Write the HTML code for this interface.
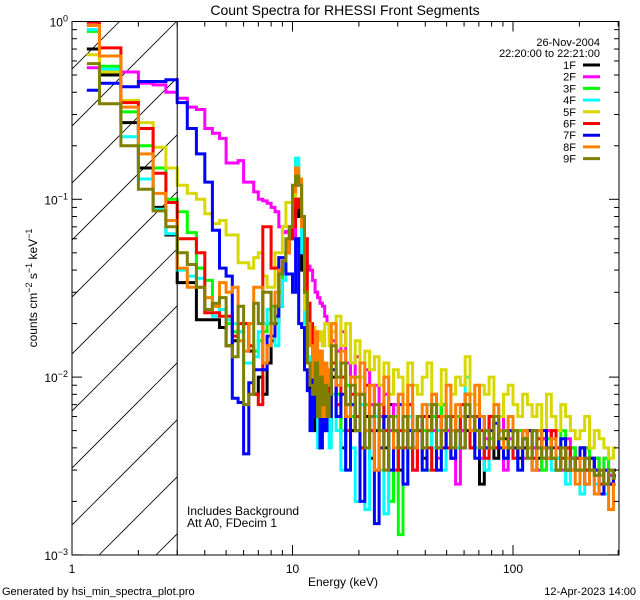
<!DOCTYPE html>
<html><head><meta charset="utf-8"><style>
html,body{margin:0;padding:0;background:#fff}
svg{display:block;font-family:"Liberation Sans",sans-serif}
</style></head><body>
<svg id="chart" width="640" height="600" viewBox="0 0 640 600" xmlns="http://www.w3.org/2000/svg">
<rect width="640" height="600" fill="#fff"/>
<defs><clipPath id="plotclip"><rect x="72" y="21" width="547" height="534"/></clipPath></defs>
<text x="345" y="15" font-size="14" text-anchor="middle">Count Spectra for RHESSI Front Segments</text>
<g id="hatch" clip-path="url(#plotclip)"></g>
<g id="series" clip-path="url(#plotclip)"></g>
<g id="axes"></g>
<text x="187" y="515" font-size="12">Includes Background</text>
<text x="187" y="527" font-size="12">Att A0, FDecim 1</text>
<text x="343" y="586" font-size="12" text-anchor="middle">Energy (keV)</text>
<text transform="translate(37,288) rotate(-90)" font-size="12" text-anchor="middle">counts cm<tspan dy="-5" font-size="9">−2</tspan><tspan dy="5"> s</tspan><tspan dy="-5" font-size="9">−1</tspan><tspan dy="5"> keV</tspan><tspan dy="-5" font-size="9">−1</tspan></text>
<text x="2" y="595" font-size="11">Generated by hsi_min_spectra_plot.pro</text>
<text x="636" y="595" font-size="11" text-anchor="end">12-Apr-2023 14:00</text>
<text x="600" y="46" font-size="11" text-anchor="end">26-Nov-2004</text>
<text x="600" y="57" font-size="11" text-anchor="end">22:20:00 to 22:21:00</text>
<g id="legend"></g>
</svg>
<script>
// ---- data ----
const seriesNames = ["1F","2F","3F","4F","5F","6F","7F","8F","9F"];
const seriesColors = ["#000000","#ff00ff","#00ff00","#00ffff","#d8d800","#ff0000","#0000ff","#ff8000","#808000"];
// low-energy bins: 1/3 keV from 1 to 15 keV ; values in units of 1e-3 counts/cm2/s/keV
const lowBlack  = [700,500,270,150,90,63,34,34,21,21,21,19,15,16,18,20,14,8,10,8,12,16,20,25,40,50,60,80,100,80,40,20,12,8,6,5,6,8,5,7,6,5];
const lowMagenta= [550,520,520,450,440,400,370,330,320,250,235,220,160,160,165,125,125,110,100,98,95,90,85,70,65,66,66,70,60,55,50,45,42,40,35,30,28,26,25,22,20,18];
const lowGreen  = [880,560,310,200,150,100,85,65,41,35,25,24,20,18,16,12,12,14,16,18,20,25,30,30,40,50,60,90,170,120,60,30,20,16,12,10,8,12,7,9,6,8];
const lowCyan   = [900,540,225,130,88,64,40,37,36,24,22,24,21,20,18,12,12,13,18,20,24,20,15,25,35,50,70,90,170,120,50,20,13,11,7,9,4,6,8,5,7,4];
const lowYellow = [650,520,360,270,196,150,120,108,100,83,73,76,63,63,44,44,41,47,50,37,32,32,50,50,70,96,96,96,137,123,70,24,24,19,19,18,16,18,15,20,20,15];
const lowRed    = [990,710,350,250,140,96,60,60,50,23,23,22,22,17,20,20,15,8,7,70,70,41,41,40,45,50,60,70,100,90,80,60,26,20,15,10,14,8,12,6,9,7];
const lowBlue   = [410,450,430,460,460,470,350,250,180,125,67,41,37,7.6,7.2,3.7,9.3,11,11,11,17,17,22,47,47,38,38,30,60,20,19,11,8.4,5,12,6,9,4,7,5,8,6];
const lowOrange = [950,640,330,180,108,76,41,32,32,28,25,34,30,32,16,14,20,32,32,12,15,20,30,40,45,50,70,110,150,130,70,30,20,15,10,18,8,14,6,12,9,11];
const lowOlive  = [580,345,200,114,86,70,50,43,32,24,26,28,15,13,25,7,8,26,20,30,30,20,25,38,45,60,70,120,135,120,80,30,12,9,8,12,6,10,7,9,6,8];
// high-energy bins: 60 log bins from 15 to ~300 keV ; units 1e-3
const tailBlack  = [10,6,4,7,5,8,4,6,3.5,5,6,4,7,5,3,5,6,4,5,3.5,6,5,4,7,5,3.5,6,5,5,4,6,2.5,4,6,3.5,5,4.5,4,5,3.5,4,5,4,3.5,4.5,4,5,3.5,4,3,4,3.5,3,4,3,3.5,3,2.5,3,2.8];
const tailMagenta= [16,14,18,12,10,13,8,11,7,9,6,8,5,7,4,6,5,3,6,4,7,5,3.5,6,5,4,2.5,5,6,4,5,3.5,4.5,5,4,6,3,4.5,5,4,3.5,5,4,3,4.5,5,3.5,4,3,4.5,3.5,3,4,3,3.5,2.5,3,3.5,2.8,3];
const tailGreen  = [12,8,5,9,6,10,4,7,5,3,7,5,2,6,1.3,5,7,4,6,5,3,6,5,7,4,5,6,4,8,5,6,4,5,4.5,6,4,3.5,5,4,5,4.5,3.5,5,4,3,4.5,4,3.5,5,3,4,3.5,3,4,3,3.5,2.8,3.5,3,2.5];
const tailCyan   = [8,5,3,6,4,2,7,1.8,5,6,3,1.7,6,4,5,2.5,6,4,5,3,7,4,5,3,6,5,4,6,10,5,4,6,3,5,4,5,3.5,4,5,3,4.5,4,3.5,5,3.5,4,3,3.5,4,2.5,3.5,3,2.2,3.5,3,2.5,3,2.2,3,2.5];
const tailYellow = [18,22,15,20,12,16,10,14,11,13,9,12,8,11,10,7,12,9,8,10,12,8,7,11,9,8,10,9,13,8,7,9,8,10,7,6,8,9,7,6,8,7,6,7,5,8,6,5,7,6,5,4.5,5,6,4,5,4.5,4,3.5,4];
const tailRed    = [12,7,10,5,8,6,4,9,5,3,7,5,6,3,5,4,7,3,5,6,4,3,6,5,4,6,5,7,8,4,6,5,3.5,6,4,5,4,5,3.5,4,5,4,3.5,4.5,4,3.5,5,4,3.5,4,3,3.5,4,3,3.5,3,2.5,3,2.5,2.8];
const tailBlue   = [11,6,8,3,7,5,2,5,6,1.5,4,6,3,5,7,2.5,5,4,6,3,5,7,3,4,6,3.5,5,4,6,5,3.5,6,4,5,5.5,4,3.5,5,4,3,4.5,5,3,4,5,3.5,4,3,4.5,3,3.5,3,4,2.5,3.5,3,2.2,3,2.5,3];
const tailOrange = [20,9,14,6,10,8,12,5,9,3,7,10,6,4,8,5,9,4,6,7,5,8,4,6,9,5,7,6,8,5,9,6,5,4,7,5,4,6,5,4,5,4,3,5,4,3.5,4.5,3,4,3.5,3,2.5,3.5,2.5,3,2.2,3,2.5,1.8,2.5];
const tailOlive  = [15,10,12,7,9,5,8,4,6,7,5,3,6,5,4,6,4,5,6,4,5,7,4,5,6,4,5,4,7,6,5,4,5,4,6,4.5,5,4,5,4,4.5,3.5,5,4,3.5,4,3.5,3,4,3,3.5,3,3,3.5,3,2.8,3,2.5,3,2.7];
const xTickLabels = ["1","10","100"];
const yTickExponents = ["0","−1","−2","−3"];

const lowSets = [lowBlack,lowMagenta,lowGreen,lowCyan,lowYellow,lowRed,lowBlue,lowOrange,lowOlive];
const tailSets = [tailBlack,tailMagenta,tailGreen,tailCyan,tailYellow,tailRed,tailBlue,tailOrange,tailOlive];

// ---- axes ----
const X0=72, X1=619, Y0=21.5, Y1=555, DEC_X=220.5, DEC_Y=177.8;
function xs(e){return X0+DEC_X*Math.log10(e);}
function ys(v){return Y0-DEC_Y*Math.log10(v);}
const NS="http://www.w3.org/2000/svg";
function mk(tag,attrs,parent){const el=document.createElementNS(NS,tag);for(const k in attrs)el.setAttribute(k,attrs[k]);parent.appendChild(el);return el;}

// energy bin edges
const edges=[];
for(let k=0;k<=42;k++)edges.push(1+k/3);
const ratio=Math.pow(300/15,1/60);
for(let j=1;j<=60;j++)edges.push(15*Math.pow(ratio,j));

// hatch
const hatch=document.getElementById('hatch');
const xl=xs(3);
for(let b=-600;b<700;b+=57){
  const ln=mk('line',{x1:X0+b,y1:Y1,x2:X0+b+600,y2:Y1-600,stroke:'#000','stroke-width':0.8},hatch);
  
  
}
const hc=mk('clipPath',{id:'hclip'},document.querySelector('defs'));
mk('rect',{x:X0,y:Y0,width:xl-X0,height:Y1-Y0},hc);
hatch.setAttribute('clip-path','url(#hclip)');
const vline=mk('line',{x1:xl,y1:Y0,x2:xl,y2:Y1,stroke:'#000','stroke-width':1},document.getElementById('axes'));



// series
const sg=document.getElementById('series');
lowSets.forEach((low,si)=>{
  const vals=low.concat(tailSets[si]).map(v=>v/1000);
  const n=Math.min(vals.length,edges.length-1);
  let d='';
  for(let i=0;i<n;i++){
    const y=ys(vals[i]);
    const xa= i===0 ? xs((edges[0]+edges[1])/2) : xs(edges[i]);
    const xb= i===n-1 ? xs((edges[n-1]+edges[n])/2) : xs(edges[i+1]);
    d+= (i===0?'M':'L')+xa.toFixed(1)+','+y.toFixed(1)+'L'+xb.toFixed(1)+','+y.toFixed(1);
  }
  const p=mk('path',{d:d,fill:'none',stroke:seriesColors[si],'stroke-width':3,'stroke-linejoin':'miter'},sg);
  
  
});

// axes box + ticks
const ax=document.getElementById('axes');
const box=mk('rect',{x:X0,y:Y0,width:X1-X0,height:Y1-Y0,fill:'none',stroke:'#000','stroke-width':1},ax);


for(let dec=0;dec<3;dec++){
  for(let m=1;m<10;m++){
    const e=m*Math.pow(10,dec); const x=xs(e); if(x>X1+0.5)continue;
    const L=m===1?10:5;
    mk('line',{x1:x,y1:Y1,x2:x,y2:Y1-L,stroke:'#000'},ax);
    mk('line',{x1:x,y1:Y0,x2:x,y2:Y0+L,stroke:'#000'},ax);
  }
}
xTickLabels.forEach((t,i)=>{
  const tx=mk('text',{x:xs(Math.pow(10,i)),y:573,'font-size':12,'text-anchor':'middle'},ax);
  tx.textContent=t;
  
  
});
for(let dec=0;dec<3;dec++){
  for(let m=1;m<10;m++){
    const v=m*Math.pow(10,-dec-1); const y=ys(v);
    const L=(m===1)?10:5;
    mk('line',{x1:X0,y1:y,x2:X0+L,y2:y,stroke:'#000'},ax);
    mk('line',{x1:X1,y1:y,x2:X1-L,y2:y,stroke:'#000'},ax);
  }
}
yTickExponents.forEach((ex,i)=>{
  const y=ys(Math.pow(10,-i));
  const tx=mk('text',{x:68,y:y+5,'font-size':12,'text-anchor':'end'},ax);
  
  
  const a=document.createElementNS(NS,'tspan');a.textContent='10';tx.appendChild(a);
  const b=document.createElementNS(NS,'tspan');b.setAttribute('dy','-5');b.setAttribute('font-size','9');b.textContent=ex;tx.appendChild(b);
});

// legend
const lg=document.getElementById('legend');
seriesNames.forEach((nm,i)=>{
  const y=65+i*11.7;
  const t=mk('text',{x:576,y:y+4,'font-size':11,'text-anchor':'end'},lg);
  t.textContent=nm;
  
  
  const l=mk('line',{x1:583,y1:y,x2:600,y2:y,stroke:seriesColors[i],'stroke-width':3},lg);
  
  
});
</script>
</body></html>
